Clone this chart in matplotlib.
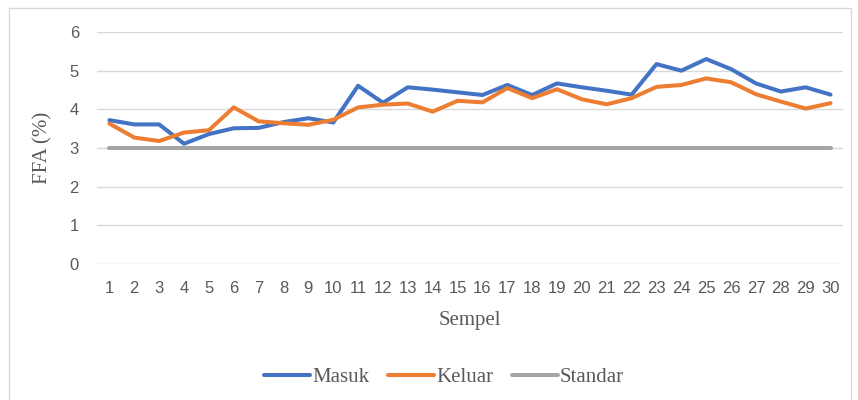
import numpy as np
import matplotlib.pyplot as plt
from matplotlib.patches import Rectangle

# data
sampel = list(range(1, 31))
masuk = [3.72, 3.61, 3.61, 3.11, 3.36, 3.51, 3.52, 3.67, 3.77, 3.66,
         4.61, 4.17, 4.57, 4.51, 4.44, 4.37, 4.63, 4.37, 4.67, 4.57,
         4.48, 4.38, 5.17, 5.00, 5.30, 5.04, 4.67, 4.46, 4.57, 4.38]
keluar = [3.63, 3.27, 3.18, 3.40, 3.46, 4.05, 3.69, 3.64, 3.60, 3.73,
          4.05, 4.12, 4.15, 3.94, 4.22, 4.18, 4.55, 4.29, 4.52, 4.26,
          4.13, 4.29, 4.58, 4.63, 4.80, 4.70, 4.39, 4.20, 4.02, 4.16]
standar = [3] * 30
y_ticks = [0, 1, 2, 3, 4, 5, 6]

serif = 'Liberation Serif'
sans = 'Liberation Sans'
grey_txt = '#595959'

fig = plt.figure(figsize=(8.58, 4.0), dpi=100)
ax = fig.add_axes([97 / 858, 1 - 264 / 400, (843 - 97) / 858, (264 - 32) / 400])

# chart border
fig.patches.append(Rectangle((9 / 858, -0.1), (851 - 9) / 858, 1.1 - 8 / 400,
                             transform=fig.transFigure, fill=False,
                             edgecolor='#D9D9D9', linewidth=1))

ax.plot(sampel, masuk, color='#4472C4', lw=2.9, label='Masuk', solid_capstyle='round')
ax.plot(sampel, keluar, color='#ED7D31', lw=2.9, label='Keluar', solid_capstyle='round')
ax.plot(sampel, standar, color='#A5A5A5', lw=2.9, label='Standar', solid_capstyle='round')

ax.set_xlim(0.5, 30.5)
ax.set_ylim(0, 6)
ax.set_yticks(y_ticks)
ax.set_xticks(sampel)
ax.yaxis.grid(True, color='#D9D9D9', lw=1)
ax.set_axisbelow(True)
for s in ax.spines.values():
    s.set_visible(False)
ax.tick_params(axis='y', length=0, labelsize=12, labelcolor=grey_txt, pad=13)
ax.tick_params(axis='x', length=0, labelsize=12, labelcolor=grey_txt, pad=12)
for lab in ax.get_xticklabels() + ax.get_yticklabels():
    lab.set_family(sans)

ax.set_ylabel('FFA (%)', family=serif, fontsize=15, color=grey_txt, labelpad=12)
ax.set_xlabel('Sempel', family=serif, fontsize=15, color=grey_txt, labelpad=11)

leg = fig.legend(loc='center', bbox_to_anchor=(444 / 858, 1 - 377 / 400), ncol=3,
                 frameon=False, prop={'family': serif, 'size': 15},
                 handlelength=2.2, handletextpad=0.1, columnspacing=0.9)
for t in leg.get_texts():
    t.set_color(grey_txt)

fig.savefig('out.png', dpi=100)
